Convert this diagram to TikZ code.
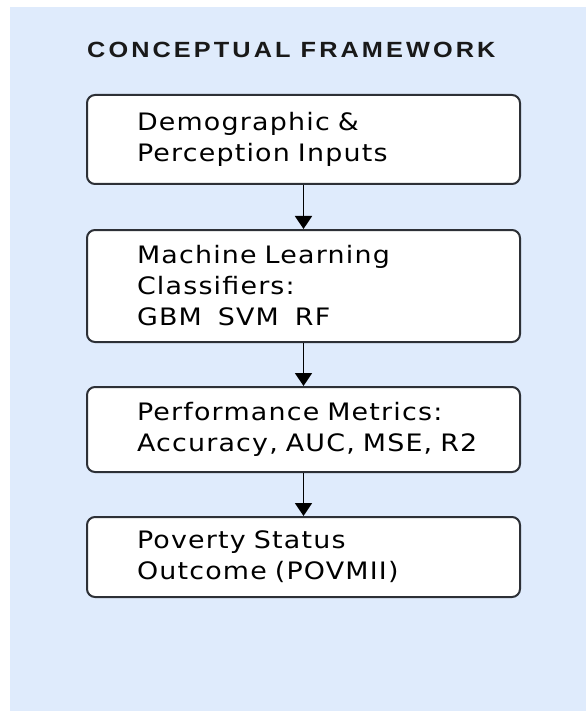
\documentclass[tikz,border=0pt]{standalone}
\usepackage{fontspec}
\setmainfont{DejaVu Sans}[FakeStretch=1.12,LetterSpace=5]
\newfontfamily\titlefont{Liberation Sans}[FakeStretch=1.15,LetterSpace=14]
\usetikzlibrary{arrows.meta,positioning}
\definecolor{hintergrund}{RGB}{223,235,252}
\definecolor{rahmen}{RGB}{45,48,54}

\begin{document}
\begin{tikzpicture}[x=1pt,y=-1pt,
	box/.style={draw=rahmen,line width=2pt,rounded corners=8pt,fill=white,
		minimum width=433pt,text width=333pt,inner xsep=50pt,inner ysep=0pt,
		align=left,font=\fontsize{24}{31}\selectfont},
	>={Triangle[width=17pt,length=13pt]}]
	\useasboundingbox (0,0) rectangle (586,711);
	\fill[hintergrund] (10,7) rectangle (586,711);
	% Titel
		\node (t) at (87,58) [anchor=base west,inner sep=0pt,text=black!90,
			font=\titlefont\bfseries\fontsize{22}{24}\selectfont] {CONCEPTUAL FRAMEWORK};
	% Knoten
		\node (1) at (303.5,139.5) [box,minimum height=89pt] {Demographic \&\\Perception Inputs};
		\node (2) at (303.5,286) [box,minimum height=112pt] {Machine Learning\\Classifiers:\\GBM\ \ SVM\ \ RF};
		\node (3) at (303.5,429.5) [box,minimum height=85pt] {Performance Metrics:\\Accuracy,~AUC,~MSE,~R2};
		\node (4) at (303.5,557) [box,minimum height=80pt] {Poverty Status\\Outcome (POVMII)};
	% Kanten
		\draw[->,line width=1.6pt] (1) -- (2);
		\draw[->,line width=1.6pt] (2) -- (3);
		\draw[->,line width=1.6pt] (3) -- (4);
\end{tikzpicture}
\end{document}
